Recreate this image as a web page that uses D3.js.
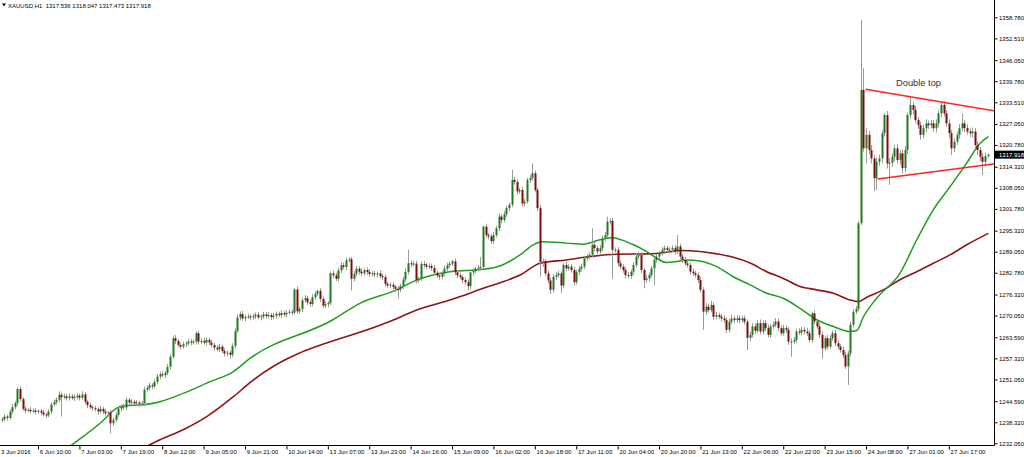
<!DOCTYPE html>
<html><head><meta charset="utf-8">
<script src="https://cdn.jsdelivr.net/npm/d3@7"></script>
<style>html,body{margin:0;padding:0;background:#fff;overflow:hidden}svg{display:block}</style>
</head><body>
<svg id="chart" width="1024" height="457"></svg>
<script>
// ---- data (XAUUSD H1) ----
const firstOpen = 1239.0;
const closes = [
1239.2,1240.0,1239.6,1241.5,1242.8,1244.0,1248.2,1245.2,1242.3,1241.8,
1242.0,1241.6,1241.8,1241.4,1241.7,1241.2,1240.6,1240.4,1241.5,1243.6,
1244.3,1245.0,1246.5,1245.8,1246.0,1245.5,1246.0,1245.5,1245.8,1246.2,
1245.6,1246.6,1244.4,1243.4,1242.8,1242.5,1242.2,1241.5,1242.3,1241.5,
1241.0,1241.2,1238.0,1239.0,1240.5,1242.4,1243.0,1242.7,1245.0,1244.2,
1244.4,1243.9,1244.2,1243.8,1244.0,1248.0,1248.5,1249.3,1249.0,1250.3,
1251.9,1252.6,1252.3,1253.0,1254.8,1257.8,1263.3,1262.5,1261.3,1260.8,
1261.5,1261.8,1262.3,1262.0,1262.3,1264.8,1262.3,1262.5,1262.0,1262.8,
1262.0,1261.3,1260.5,1260.0,1260.8,1259.5,1258.8,1259.0,1258.4,1261.0,
1265.5,1269.5,1270.5,1269.2,1269.6,1269.8,1269.5,1269.8,1270.3,1269.5,
1269.8,1270.4,1269.9,1270.2,1269.6,1270.0,1270.6,1270.2,1270.8,1270.4,
1270.9,1271.2,1271.0,1277.8,1271.3,1272.0,1274.6,1275.2,1274.0,1273.5,
1275.5,1276.5,1277.4,1275.0,1273.0,1273.4,1273.8,1282.6,1282.0,1281.0,
1283.5,1285.0,1284.5,1286.5,1286.8,1281.0,1282.5,1284.0,1283.1,1282.6,
1283.6,1283.0,1282.4,1282.6,1282.3,1282.6,1281.8,1281.5,1279.5,1279.0,
1279.2,1278.6,1278.0,1277.8,1278.8,1280.8,1283.0,1285.6,1285.3,1285.5,
1280.5,1281.0,1285.4,1285.2,1284.6,1284.8,1284.2,1282.8,1282.0,1281.6,
1282.6,1284.0,1285.0,1285.5,1286.2,1282.9,1282.0,1281.5,1280.6,1280.0,
1278.8,1282.9,1283.3,1284.0,1284.3,1284.5,1296.5,1294.0,1293.6,1292.2,
1294.0,1296.0,1299.5,1298.5,1300.2,1302.0,1303.0,1310.4,1309.8,1307.0,
1307.4,1303.4,1304.0,1310.4,1311.0,1312.4,1307.4,1302.0,1286.0,1286.2,
1282.6,1280.5,1277.7,1281.6,1282.1,1282.6,1279.0,1285.1,1284.1,1284.6,
1283.6,1280.0,1283.0,1284.0,1284.6,1287.1,1287.6,1288.1,1291.1,1290.1,
1289.1,1290.1,1293.0,1294.0,1298.0,1298.2,1289.6,1289.6,1285.6,1284.6,
1283.6,1282.1,1281.8,1283.1,1285.1,1287.6,1288.1,1283.6,1280.6,1281.1,
1282.1,1284.1,1286.6,1287.6,1288.6,1289.6,1290.1,1289.6,1289.6,1290.1,
1289.1,1290.6,1287.6,1286.6,1285.6,1285.1,1283.1,1282.6,1282.1,1280.6,
1277.7,1271.2,1272.7,1271.7,1273.2,1269.7,1270.2,1269.7,1269.2,1268.7,
1265.8,1268.2,1269.2,1268.7,1269.2,1268.7,1269.2,1268.2,1263.4,1264.3,
1266.8,1265.5,1267.8,1265.3,1267.8,1266.3,1264.3,1266.8,1267.3,1268.3,
1266.3,1264.8,1266.3,1265.8,1262.3,1262.3,1262.8,1265.3,1265.0,1265.8,
1265.3,1264.8,1262.8,1270.7,1268.3,1266.8,1264.3,1260.3,1263.3,1260.8,
1263.3,1264.8,1261.8,1260.8,1259.8,1258.3,1254.9,1258.8,1267.3,1271.2,
1272.0,1297.5,1337.2,1319.8,1323.8,1319.3,1316.8,1310.9,1315.8,1316.8,
1324.3,1329.7,1315.3,1315.5,1317.3,1319.8,1316.3,1318.3,1313.9,1319.3,
1329.7,1332.7,1331.2,1328.2,1326.7,1323.8,1325.8,1327.2,1326.7,1327.2,
1325.8,1327.2,1330.2,1332.7,1330.2,1327.2,1324.3,1319.8,1321.8,1323.8,
1325.8,1327.2,1325.8,1324.8,1324.3,1324.8,1320.8,1319.3,1317.3,1315.8,
1317.5,1317.9
];
const upperWick = [
0.6,0.8,0.5,0.7,0.9,0.6,0.5,0.8,0.6,0.7, 0.5,0.8,0.6,0.7,0.5,0.6,0.8,0.5,0.7,0.6,
0.8,0.7,1.0,0.6,0.8,0.7,0.9,0.6,0.8,0.7, 0.6,0.9,0.7,0.5,0.8,0.6,0.7,0.5,0.8,0.6,
0.7,0.5,0.8,0.6,0.7,0.8,0.6,0.9,0.7,0.6, 0.8,0.6,0.7,0.5,0.6,0.9,0.7,0.8,0.6,0.7,
0.8,0.7,0.9,0.6,0.8,0.7,0.8,1.0,0.6,0.7, 0.8,0.6,0.9,0.7,0.6,0.6,0.8,0.7,0.9,0.6,
0.7,0.8,0.6,0.7,0.9,0.6,0.8,0.7,0.6,0.8, 0.7,0.9,0.8,1.0,0.7,0.8,0.6,0.9,0.7,0.8,
0.6,0.8,0.7,0.9,0.6,0.8,0.7,0.6,0.9,0.7, 0.8,0.6,0.7,0.4,0.9,0.7,0.8,1.0,0.7,0.8,
0.9,0.7,0.3,0.8,0.7,0.9,0.6,0.5,0.9,0.8, 0.7,0.9,0.8,0.8,0.6,0.7,0.9,0.8,0.7,0.9,
0.6,0.8,0.9,0.7,0.8,0.6,0.9,0.7,0.8,0.6, 0.7,0.8,0.6,0.9,0.7,0.8,1.2,4.0,0.8,0.7,
0.9,0.7,0.8,0.9,0.6,0.8,0.7,0.9,0.6,0.8, 0.7,0.9,0.8,0.6,0.5,0.9,0.7,0.8,0.6,0.9,
0.8,0.7,0.9,0.6,0.8,3.0,0.3,0.9,0.7,0.8, 0.9,0.8,1.0,0.7,0.9,0.8,0.7,3.0,0.9,0.8,
0.7,0.9,0.8,0.6,0.9,2.9,0.8,0.7,0.9,0.8, 0.7,0.9,0.8,0.7,0.9,0.8,0.6,0.5,0.9,0.7,
0.8,0.9,0.7,0.8,0.9,0.7,0.8,0.9,4.9,0.8, 0.7,0.9,0.8,1.0,1.5,0.8,0.9,0.7,0.8,0.9,
0.7,0.8,0.9,0.7,0.8,0.9,1.0,0.8,0.7,0.9, 0.8,0.7,0.9,0.8,0.7,0.9,0.8,0.7,0.9,0.8,
0.9,3.4,0.8,0.7,0.9,0.8,0.7,0.9,0.8,0.7, 0.9,0.8,1.0,0.9,1.2,0.8,0.9,0.7,0.8,0.9,
0.8,0.9,1.1,0.8,0.9,1.0,0.8,0.9,0.7,0.9, 1.0,0.8,0.9,1.1,0.8,0.9,1.0,0.8,0.9,1.0,
0.9,0.8,1.0,0.9,0.8,1.0,0.9,0.8,1.0,0.9, 0.8,1.0,0.9,0.5,0.9,0.8,1.0,0.9,0.8,1.0,
0.9,0.8,1.0,0.9,0.8,0.9,1.0,0.8,0.9,0.8, 0.9,0.7,20.7,6.4,2.0,1.2,1.5,1.0,1.3,1.1,
0.9,0.5,1.2,1.4,1.1,1.0,1.3,0.9,1.1,1.2, 0.8,2.5,1.0,1.2,0.9,1.1,1.0,1.3,0.9,1.1,
1.0,1.2,0.9,0.8,1.1,1.0,1.2,0.9,1.1,1.0, 1.2,3.0,1.0,1.1,0.9,1.2,1.0,1.1,0.9,1.2,
1.0,0.4
];
const lowerWick = [
0.7,0.6,0.8,0.5,0.7,0.6,0.8,0.7,0.6,0.8, 0.6,0.7,0.5,0.8,0.6,0.7,0.5,0.8,0.6,0.7,
0.6,0.8,0.7,5.8,0.6,0.8,0.7,0.6,0.9,0.7, 0.8,0.6,0.7,0.9,0.6,0.8,0.7,0.9,0.6,0.8,
0.7,0.9,3.0,0.8,0.7,0.6,0.9,0.7,0.8,0.6, 0.8,0.7,0.6,0.9,0.7,0.8,0.6,0.7,0.9,0.6,
0.7,0.8,0.6,0.9,0.7,0.8,0.6,0.9,0.7,0.8, 0.6,0.9,0.7,0.8,0.6,0.9,0.8,0.7,0.6,0.9,
0.8,0.7,0.9,0.6,0.8,0.7,0.9,0.8,1.2,0.7, 0.8,0.6,0.9,0.7,0.8,0.6,0.9,0.7,0.8,0.6,
0.9,0.7,0.8,0.6,0.9,0.7,0.8,0.6,0.9,0.7, 0.8,0.6,0.9,0.7,0.8,0.6,0.9,0.7,0.8,0.9,
0.7,0.8,0.6,0.9,0.8,0.7,0.9,0.6,0.8,0.7, 0.9,0.8,0.7,0.9,0.6,3.5,0.8,0.7,0.9,0.8,
0.7,0.9,0.8,0.7,0.9,0.8,0.7,0.9,0.8,0.7, 0.9,0.8,1.0,2.6,0.8,0.9,0.7,0.8,0.9,0.7,
0.9,0.8,0.7,0.9,0.8,0.7,0.9,0.8,0.7,0.9, 0.8,0.7,0.9,0.8,0.7,0.9,0.8,0.7,0.9,0.8,
1.3,0.8,0.9,0.7,0.8,0.9,0.7,0.8,0.9,0.8, 0.9,0.7,0.8,0.9,0.7,0.8,0.9,0.7,0.8,0.9,
0.7,0.9,0.8,0.7,0.9,0.8,0.7,0.9,4.4,1.5, 0.8,0.9,1.2,0.8,0.9,0.7,2.3,0.8,0.9,0.7,
0.8,1.0,0.7,0.9,0.8,0.7,0.9,0.8,0.7,0.9, 0.8,0.7,0.9,0.8,0.7,0.9,8.6,0.8,0.9,0.7,
0.8,0.9,0.7,0.8,0.9,0.7,0.8,0.9,2.4,0.8, 0.9,0.7,5.0,0.8,0.9,0.7,0.8,0.9,0.7,0.8,
0.9,0.7,0.8,0.9,0.7,0.8,0.9,0.7,0.8,0.9, 0.8,5.4,0.9,0.8,0.7,0.9,0.8,0.7,0.9,0.8,
0.9,0.8,0.7,0.9,0.8,0.9,0.7,0.8,3.6,0.9, 0.8,0.9,0.7,0.8,0.9,0.8,0.7,0.9,0.8,0.7,
0.9,0.8,0.7,0.9,1.0,4.5,0.8,0.9,0.7,0.8, 0.9,0.8,0.7,0.9,0.8,0.7,0.9,3.0,0.8,0.9,
0.7,0.8,0.9,0.7,0.8,0.9,0.7,5.5,0.9,0.8, 0.7,0.6,0.5,1.0,4.5,1.3,1.5,3.9,3.5,1.2,
1.4,1.0,1.5,6.4,1.2,1.3,1.0,1.4,1.6,1.1, 1.2,1.0,1.3,0.9,1.1,1.4,1.0,1.2,1.1,1.0,
1.1,1.3,1.0,1.2,0.9,1.1,1.4,2.0,1.2,1.0, 1.1,1.0,1.2,0.9,1.1,1.3,1.2,1.4,1.3,3.9,
1.2,0.6
];
// moving averages, read at bar positions
const greenMaBars   = [23.3,29.6,38,44.4,47,54.7,61.1,70.1,80.5,89.5,95.9,128,138.4,152.6,160.3,173.2,186.1,192.5,200.3,205.4,208.7,218.3,224.7,231.2,235.7,244.1,249.2,253.1,257,260.8,264.7,269.8,276.3,282.7,289.2,295.6,302,308.5,314.9,321.4,327.8,330.4,333,338.1,347.1,353.6,360,366.5,372.9,378.1,381.3];
const greenMaValues = [1229.5,1233.0,1238.0,1242.5,1243.2,1243.5,1244.4,1246.9,1250.4,1253.4,1257.3,1268.8,1273.7,1277.7,1280.6,1283.1,1283.8,1284.8,1288.1,1291.1,1292.0,1291.6,1291.3,1292.6,1293.2,1291.1,1289.1,1287.1,1285.8,1286.1,1286.6,1286.3,1284.6,1281.6,1279.2,1276.7,1275.2,1272.2,1268.8,1266.8,1265.3,1265.6,1269.7,1275.2,1282.6,1292.6,1301.5,1308.4,1315.4,1321.3,1323.3];
const redMaBars   = [56.5,61.1,70.1,79.2,89.5,95.9,151.3,160.3,173.2,180.9,186.1,192.5,200.3,208,218.3,227.3,237.6,250.5,257,262.1,269.8,276.3,282.7,289.2,295.6,302,308.5,314.9,321.4,327.8,331,334.3,340.7,347.1,353.6,360,366.5,372.9,381.3];
const redMaValues = [1231.3,1233.1,1236.1,1240.0,1245.9,1250.1,1268.7,1271.7,1274.7,1276.7,1278.2,1279.8,1282.1,1285.6,1286.6,1287.6,1288.3,1288.4,1288.9,1289.4,1289.1,1288.4,1287.4,1285.7,1283.1,1281.1,1278.7,1277.7,1276.7,1274.7,1274.2,1275.5,1277.7,1280.7,1283.1,1285.6,1288.1,1291.1,1294.5];
// trend lines: [bar, price]
const upperTrendBars = [333.8, 384], upperTrendPrices = [1337.4, 1330.9];
const lowerTrendBars = [338.5, 384], lowerTrendPrices = [1310.7, 1315.2];
const priceTicks = [1358.780,1352.510,1346.050,1339.780,1333.510,1327.050,1320.780,1314.320,1308.050,1301.780,1295.320,1289.050,1282.780,1276.320,1270.050,1263.590,1257.320,1251.050,1244.590,1238.320,1232.050];
const timeLabels = ["3 Jun 2016","6 Jun 10:00","7 Jun 03:00","7 Jun 19:00","8 Jun 12:00","9 Jun 05:00","9 Jun 21:00","10 Jun 14:00","13 Jun 07:00","13 Jun 23:00","14 Jun 16:00","15 Jun 09:00","16 Jun 02:00","16 Jun 18:00","17 Jun 11:00","20 Jun 04:00","20 Jun 20:00","21 Jun 13:00","22 Jun 06:00","22 Jun 22:00","23 Jun 15:00","24 Jun 08:00","27 Jun 01:00","27 Jun 17:00"];
const firstLabelBar = -2, barsPerLabel = 16;
const titleSymbol = "XAUUSD,H1", titleOHLC = [1317.536, 1318.047, 1317.473, 1317.918];
const lastPrice = 1317.918;
const noteText = "Double top", noteBar = 354.3, notePrice = 1338.4;

// ---- drawing ----
const svg = d3.select("#chart");
const W = 1024, H = 457, plotR = 994.5, plotB = 445.5;
const font = "'Liberation Sans', Arial, sans-serif";
const x = d3.scaleLinear().domain([0, closes.length - 1]).range([1.8, 1.8 + (closes.length - 1) * 2.5875]);
const y = d3.scaleLinear().domain([1232.05, 1358.78]).range([443.3, 17.3]);

svg.append("rect").attr("width", W).attr("height", H).attr("fill", "#fff");
svg.append("clipPath").attr("id", "plotclip").append("rect").attr("x", 0).attr("y", 0).attr("width", plotR).attr("height", plotB);
const plot = svg.append("g").attr("clip-path", "url(#plotclip)");

const bars = closes.map((c, i) => {
  const o = i === 0 ? firstOpen : closes[i - 1];
  return { i, o, c, h: Math.max(o, c) + upperWick[i], l: Math.min(o, c) - lowerWick[i] };
});

// moving averages
const maLine = d3.line().curve(d3.curveMonotoneX).x(d => x(d[0])).y(d => y(d[1]));
plot.append("path").datum(redMaBars.map((b, k) => [b, redMaValues[k]]))
  .attr("d", maLine).attr("fill", "none").attr("stroke", "#8f1414").attr("stroke-width", 1.6);
plot.append("path").datum(greenMaBars.map((b, k) => [b, greenMaValues[k]]))
  .attr("d", maLine).attr("fill", "none").attr("stroke", "#1e9e1e").attr("stroke-width", 1.5);

// candles
const cg = plot.append("g");
cg.selectAll("line.wick").data(bars).join("line").attr("class", "wick")
  .attr("x1", d => Math.round(x(d.i)) + 0.5).attr("x2", d => Math.round(x(d.i)) + 0.5)
  .attr("y1", d => y(d.h)).attr("y2", d => y(d.l))
  .attr("stroke", "#9a9a9a").attr("stroke-width", 1);
cg.selectAll("rect.body").data(bars).join("rect").attr("class", "body")
  .attr("x", d => Math.round(x(d.i)) - 0.5).attr("width", 2)
  .attr("y", d => y(Math.max(d.o, d.c)))
  .attr("height", d => Math.max(1, Math.abs(y(d.o) - y(d.c))))
  .attr("fill", d => d.c >= d.o ? "#217a21" : "#7d0d0d");

// trend lines
const tl = d3.line().x(d => x(d[0])).y(d => y(d[1]));
plot.append("path").datum(upperTrendBars.map((b, k) => [b, upperTrendPrices[k]]))
  .attr("d", tl).attr("stroke", "#ff2222").attr("stroke-width", 1.5).attr("fill", "none");
plot.append("path").datum(lowerTrendBars.map((b, k) => [b, lowerTrendPrices[k]]))
  .attr("d", tl).attr("stroke", "#ff2222").attr("stroke-width", 1.5).attr("fill", "none");

// annotation
plot.append("text").attr("x", x(noteBar)).attr("y", y(notePrice)).attr("text-anchor", "middle")
  .attr("font-family", font).attr("font-size", 9.3).attr("fill", "#333").text(noteText);

// frame
svg.append("line").attr("x1", plotR).attr("x2", plotR).attr("y1", 0).attr("y2", plotB).attr("stroke", "#000");
svg.append("line").attr("x1", 0).attr("x2", plotR).attr("y1", plotB).attr("y2", plotB).attr("stroke", "#000");

// right axis
const ra = svg.append("g").attr("transform", `translate(${plotR},0)`)
  .call(d3.axisRight(y).tickValues(priceTicks).tickSize(3).tickPadding(1.5).tickFormat(d3.format(".3f")));
ra.select(".domain").remove();
ra.selectAll("line").attr("stroke", "#000");
ra.selectAll("text").attr("font-family", font).attr("font-size", 6).attr("fill", "#000");

// bottom axis
const tickBars = timeLabels.map((_, k) => firstLabelBar + k * barsPerLabel);
const ba = svg.append("g").attr("transform", `translate(0,${plotB})`)
  .call(d3.axisBottom(x).tickValues(tickBars).tickSize(4).tickFormat((d, k) => timeLabels[k]));
ba.select(".domain").remove();
ba.selectAll("line").attr("stroke", "#000");
ba.selectAll("text").attr("font-family", font).attr("font-size", 6).attr("fill", "#000")
  .attr("text-anchor", "start").attr("dy", 0).attr("y", 8)
  .attr("dx", d => Math.max(1.3, 0.5 - x(d)));

// last price tag
svg.append("rect").attr("x", plotR + 0.5).attr("y", y(lastPrice) - 4).attr("width", W - plotR).attr("height", 8).attr("fill", "#000");
svg.append("text").attr("x", plotR + 4.5).attr("y", y(lastPrice)).attr("dy", "0.35em")
  .attr("font-family", font).attr("font-size", 6).attr("fill", "#fff").text(d3.format(".3f")(lastPrice));

// title
svg.append("path").attr("d", "M2,3.5 L6,3.5 L4,6.5 Z").attr("fill", "#000");
svg.append("text").attr("x", 8).attr("y", 7.5).attr("font-family", font).attr("font-size", 6).attr("fill", "#000")
  .attr("xml:space", "preserve")
  .text(titleSymbol + "  " + titleOHLC.map(d3.format(".3f")).join(" "));
</script>
</body></html>
